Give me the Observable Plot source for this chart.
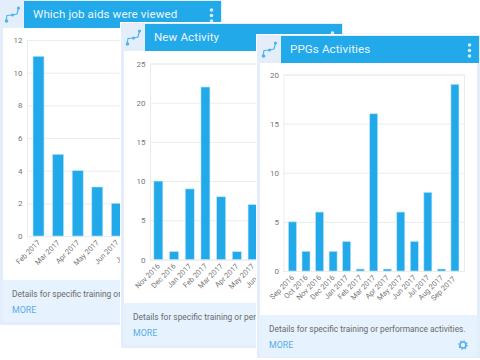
<!DOCTYPE html>
<html><head><meta charset="utf-8">
<script src="https://cdn.jsdelivr.net/npm/d3@7"></script>
<script src="https://cdn.jsdelivr.net/npm/@observablehq/plot@0.6"></script>
<style>
html,body{margin:0;padding:0;background:#fff;width:480px;height:360px;overflow:hidden;font-family:Roboto,sans-serif}
.card{position:absolute;background:#e3eefa;box-shadow:0 0 0 1px #fff,0 -1px 1px rgba(120,120,120,.35);overflow:hidden}
.hdr{position:absolute;left:24px;top:1px;right:1px;height:27px;background:#22a9e9;color:#eaf6fd;font-size:11.6px;line-height:27px;padding-left:9px;letter-spacing:.1px;white-space:nowrap}
.ico{position:absolute;left:3px;top:3px}
.dots{position:absolute;right:7px;top:7px;width:5px;height:15px}
.body{position:absolute;left:3px;top:28px;right:3px;height:252px;background:#fff}
.body svg{position:absolute;left:0;top:0;background:transparent;overflow:hidden}
.foot{position:absolute;left:3px;right:3px;top:280px;height:42px;background:#e6f2fd}
.txt{position:absolute;left:9px;top:8px;font-size:8.4px;line-height:12px;color:#6b6b6b;white-space:nowrap}
.more{position:absolute;left:9px;top:25px;font-size:8.8px;color:#57aeea;white-space:nowrap}
.gear{position:absolute;right:9px;top:25px}
</style></head><body>
<script>
const detailText = "Details for specific training or performance activities.";

const titleJobAids = "Which job aids were viewed";
const monthsJobAids = ["Feb 2017","Mar 2017","Apr 2017","May 2017","Jun 2017","Jul 2017"];
const valuesJobAids = [11,5,4,3,2,null];
const ticksJobAids = [0,2,4,6,8,10,12];

const titleNew = "New Activity";
const monthsNew = ["Nov 2016","Dec 2016","Jan 2017","Feb 2017","Mar 2017","Apr 2017","May 2017","Jun 2017"];
const valuesNew = [10,1,9,22,8,1,7,null];
const ticksNew = [0,5,10,15,20,25];

const titlePPG = "PPGs Activities";
const monthsPPG = ["Sep 2016","Oct 2016","Nov 2016","Dec 2016","Jan 2017","Feb 2017","Mar 2017","Apr 2017","May 2017","Jun 2017","Jul 2017","Aug 2017","Sep 2017 "];
const valuesPPG = [5,2,6,2,3,0.2,16,0.2,6,3,8,0.2,19];
const ticksPPG = [0,5,10,15,20];

const icon = `<svg class="ico" width="20" height="24" viewBox="0 0 20 24"><path d="M3 18 L4 12.5 L9.5 12 L14 11 L15.5 5" fill="none" stroke="#4fb4ea" stroke-width="1.2"/><circle cx="3.5" cy="18" r="1.8" fill="#4fb4ea"/><circle cx="9.5" cy="12" r="1.6" fill="#4fb4ea"/><circle cx="15.5" cy="5" r="1.6" fill="#4fb4ea"/></svg>`;
const dots = `<svg class="dots" viewBox="0 0 5 15"><circle cx="2.5" cy="2" r="1.8" fill="#d8effb"/><circle cx="2.5" cy="7.5" r="1.8" fill="#d8effb"/><circle cx="2.5" cy="13" r="1.8" fill="#d8effb"/></svg>`;
const gear = `<svg class="gear" width="10" height="10" viewBox="0 0 10 10"><circle cx="5" cy="5" r="3" fill="none" stroke="#57aeea" stroke-width="1.6"/><circle cx="5" cy="5" r="4.2" fill="none" stroke="#57aeea" stroke-width="1.2" stroke-dasharray="1.4 1.9"/></svg>`;

function card(o){
  const el = document.createElement("div");
  el.className = "card";
  el.style.cssText = `left:${o.left}px;top:${o.top}px;width:${o.width}px;height:${o.height}px;z-index:${o.z}`;
  el.innerHTML = icon + `<div class="hdr">${o.title}${dots}</div><div class="body"></div><div class="foot"><div class="txt">${detailText}</div><div class="more">MORE</div>${o.gear?gear:""}</div>`;
  const data = o.months.map((m,i)=>({m,v:o.values[i]}));
  const w = o.width-6;
  const plot = Plot.plot({
    width:w, height:252,
    marginLeft:o.ml, marginRight:o.mr, marginTop:o.mt, marginBottom:o.mb,
    style:{background:"transparent",fontFamily:"Roboto,sans-serif",overflow:"hidden"},
    x:{domain:o.months,range:[o.x0,o.x0+o.months.length*o.step],paddingInner:o.pad,paddingOuter:o.pad/2,round:false,label:null},
    y:{domain:[o.ticks[0],o.ticks[o.ticks.length-1]],label:null},
    marks:[
      Plot.gridY(o.ticks,{stroke:"#ececec",strokeOpacity:1}),
      Plot.frame({stroke:"#ececec"}),
      Plot.barY(data.filter(d=>d.v!=null),{x:"m",y:"v",fill:"#22a9e9",stroke:"#b7e2f8",strokeWidth:.6}),
      Plot.axisY(o.ticks,{tickSize:0,tickPadding:5,fontSize:8,fill:"#777",label:null}),
      Plot.axisX({tickSize:0,tickPadding:5,tickRotate:-45,fontSize:7.4,fill:"#777",label:null})
    ]
  });
  el.querySelector(".body").appendChild(plot);
  document.body.appendChild(el);
}

card({left:0,top:0,width:222,height:325,z:1,title:titleJobAids,months:monthsJobAids,values:valuesJobAids,ticks:ticksJobAids,
  ml:24,mr:5,mt:12,mb:44,x0:25.7,step:19.6,pad:.44});
card({left:121,top:23,width:222,height:325,z:2,title:titleNew,months:monthsNew,values:valuesNew,ticks:ticksNew,
  ml:26,mr:5,mt:12.5,mb:43.5,x0:26.5,step:15.7,pad:.43});
card({left:257,top:35,width:223,height:323,z:3,gear:true,title:titlePPG,months:monthsPPG,values:valuesPPG,ticks:ticksPPG,
  ml:23.5,mr:13,mt:11.5,mb:44,x0:25.7,step:13.54,pad:.41});
</script>
</body></html>
